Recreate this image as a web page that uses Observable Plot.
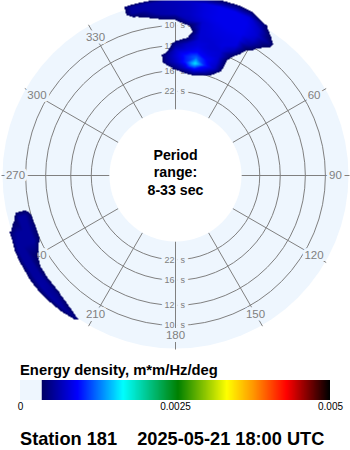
<!DOCTYPE html>
<html><head><meta charset="utf-8">
<script src="https://cdn.jsdelivr.net/npm/d3@7"></script>
<script src="https://cdn.jsdelivr.net/npm/@observablehq/plot@0.6"></script>
<style>
html,body{margin:0;padding:0;background:#fff;}
#page{position:relative;width:350px;height:450px;overflow:hidden;font-family:'Liberation Sans',Arial,sans-serif;color:#000;}
#chart{position:absolute;left:0;top:0;}
#clabel{position:absolute;left:20px;top:363px;font-weight:bold;font-size:14.8px;line-height:1;white-space:nowrap;}
#cbar{position:absolute;left:0;top:380px;}
#cbar svg{display:block;overflow:visible;}
#cbar text{font-family:'Liberation Sans',Arial,sans-serif;font-size:10px;}
#cbar .tick line{display:none;}
#title{position:absolute;left:20px;top:430px;font-weight:bold;font-size:18.2px;line-height:1;white-space:pre;}
</style></head><body>
<div id="page"><div id="chart"></div><div id="clabel"></div><div id="cbar"></div><div id="title"></div></div>
<script>
// ---- chart values ----
const periodRange = [8, 33];                 // seconds
const ringPeriods = [10, 12, 16, 22];        // seconds
const spokeDirections = [0, 30, 60, 90, 120, 150, 180, 210, 240, 270, 300, 330];
const legendTicks = [0, 0.0025, 0.005];
const legendLabel = "Energy density, m*m/Hz/deg";
const stationName = "Station 181";
const timestamp = "2025-05-21 18:00 UTC";
const energyMax = 0.005;
const energyFloor = 0.00034;                 // below this: background colour
const energyUnit = 1e-4;                     // grid values below are in 1e-4 m*m/Hz/deg

// northern swell / sea (directions, frequencies in Hz)
const northDirs = [330, 335, 340, 345, 350, 355, 0, 5, 10, 15, 20, 25, 30, 35, 40, 45];
const northFreqs = [0.050, 0.055, 0.060, 0.065, 0.070, 0.075, 0.080, 0.085, 0.090, 0.095, 0.100, 0.105, 0.110, 0.115, 0.120, 0.125, 0.130];
const northEnergy = [
  [0,0,0,0,0,0,   0,   0,   0,   0,   0,   0,   0,   0,  0,0],
  [0,0,0,0,0,0,   0,   0,   0,   0,   0,   0,   0,   0,  0,0],
  [0,0,0,0,0,0,   0, 2.5, 3.6, 1.5,   0,   0,   0,   0,  0,0],
  [0,0,0,0,0,1,  4.8,   7,   9,   7, 3.8,   0,   0,   0,  0,0],
  [0,0,0,0,0,4.8, 7,  10,  16,  10,   7,   2,   0,   0,  0,0],
  [0,0,0,0,0,4.8,7.5, 10,  12,   9, 7.5, 2.5,   0,   0,  0,0],
  [0,0,0,0,0,1.5, 7,   8,   9,   8, 7.5, 2.5,   0,   0,  0,0],
  [0,0,0,0,0,0,   5,   7,   8, 7.5, 7.5,   4,   0,   0,  0,0],
  [0,0,0,0,0,0, 1.5, 3.6, 7.5, 7.5,   8, 6.5, 1.5,   0,  0,0],
  [0,0,0,0,0,0,   0, 1.5, 7.5, 7.8,   8,   8,   3,   0,  0,0],
  [0,0,0,0,0,0, 0.5,   3, 7.5,   8, 8.2, 8.2, 5.5,   1,  0,0],
  [0,0,0,0,1.5,3, 3.6, 6.5, 7.5, 8.2, 8.5, 8.5,  7, 3.2,  0,0],
  [0,0,0,2.5,4.2,6,6.5,  7,   8, 8.5, 8.5, 8.5, 7.5,   5,  0,0],
  [0,0,0,5.5,6,6.2,6.5,  7,   8, 8.5, 8.5, 8.5,   7, 3.2,  0,0],
  [0,0,0,5.5,6,6.2,6.5,  7,   8, 8.5, 8.5,   8,   5,   1,  0,0],
  [0,0,0,0,0,0,   2, 2.5, 3.5,   4, 4.5,   4,   0,   0,  0,0],
  [0,0,0,0,0,0,   0,   0,   0,   0,   0,   0,   0,   0,  0,0]
];

// south-west swell
const westDirs = [200, 205, 210, 215, 220, 225, 230, 235, 240, 245, 250, 255, 260, 265];
const westFreqs = [0.095, 0.100, 0.105, 0.110, 0.115, 0.120, 0.125, 0.130];
const westEnergy = [
  [0,0,0,  0,  0,  0,  0,  0,  0,  0,  0,  0,0,0],
  [0,0,0,  0,  0,  0,  0,  0,  0,3.5,  4,3.6,0,0],
  [0,0,0,  0,  0,  0,  0,  0,2.5,5.5,5.5,5.5,0,0],
  [0,0,0,  0,  0,  2,2.5,  3,  4,5.5,5.5,5.5,0,0],
  [0,0,0,  0,3.5,  5,5.5,5.5,5.5,5.5,5.5,  3,0,0],
  [0,0,0,4.5,5.5,5.8,5.8,5.5,5.5,5.5,4.5,  0,0,0],
  [0,0,0,  1,  2,2.5,  3,  3,2.5,  2,  0,  0,0,0],
  [0,0,0,  0,  0,  0,  0,  0,  0,  0,  0,  0,0,0]
];

// ---- styles ----
const diskColor = "#eef6fe";
const gridColor = "#808080";
const font = "'Liberation Sans', Arial, sans-serif";
const rampStops = [energyFloor / energyMax, 0.184, 0.332, 0.51, 0.668, 0.752, 0.861, 1];
const rampColors = ["#000064", "#0000ff", "#00ffff", "#008000", "#ffff00", "#ff9900", "#ff0000", "#000000"];
const ramp = d3.scaleLinear().domain(rampStops).range(rampColors).interpolate(d3.interpolateRgb).clamp(true);
const cutoff = energyFloor / energyMax;
const blobInterp = (t) => (t < cutoff ? null : ramp(t));
const legendInterp = (t) => (t < cutoff ? diskColor : ramp(t));

// radial scale: frequency (Hz) -> radius in plot units (1 unit = 1 px)
const rad = d3.scaleLinear().domain([1 / periodRange[1], 1 / periodRange[0]]).range([66, 180]);
const diskRadius = 173, spokeOuter = 174, spokeLabelRadius = 160;
const deg = Math.PI / 180;
const px = (dir, r) => r * Math.sin(dir * deg);
const py = (dir, r) => r * Math.cos(dir * deg);

function gridPoints(dirs, freqs, rows) {
  const pts = [];
  freqs.forEach((f, i) => dirs.forEach((d, j) => pts.push({dir: d, freq: f, energy: rows[i][j] * energyUnit})));
  return pts;
}
const spectrum = [...gridPoints(northDirs, northFreqs, northEnergy), ...gridPoints(westDirs, westFreqs, westEnergy)];
const ringLabels = ringPeriods.flatMap((p) => [0, 180].map((dir) => ({p, dir})));
const centerLines = ["Period", "range:", `${periodRange[0]}-${periodRange[1]} sec`];
const centerText = (i, dy) => Plot.text([centerLines[i]], {x: 0, y: 0, dy, lineAnchor: "bottom",
  fontWeight: "bold", fontSize: 14.2, fill: "black", fontFamily: font});

const chart = Plot.plot({
  width: 350, height: 350, margin: 0,
  x: {domain: [-175, 175], axis: null},
  y: {domain: [-175, 175], axis: null},
  r: {type: "identity"},
  color: {type: "linear", domain: [0, energyMax], interpolate: blobInterp},
  style: {fontFamily: font, background: "white", overflow: "hidden"},
  marks: [
    Plot.dot([0], {x: 0, y: 0, r: diskRadius, fill: diskColor, stroke: "none"}),
    Plot.dot(ringPeriods, {x: 0, y: 0, r: (p) => rad(1 / p), fill: "none", stroke: gridColor, strokeWidth: 1}),
    Plot.text(ringLabels, {x: (d) => px(d.dir, rad(1 / d.p)), y: (d) => py(d.dir, rad(1 / d.p)), text: (d) => String(d.p),
      textAnchor: "end", dx: -1, fill: gridColor, stroke: diskColor, strokeWidth: 7, fontSize: 9, fontFamily: font}),
    Plot.text(ringLabels, {x: (d) => px(d.dir, rad(1 / d.p)), y: (d) => py(d.dir, rad(1 / d.p)), text: () => "s",
      textAnchor: "start", dx: 5, fill: gridColor, stroke: diskColor, strokeWidth: 7, fontSize: 9, fontFamily: font}),
    Plot.link(spokeDirections, {
      x1: (d) => px(d, rad(1 / periodRange[1])), y1: (d) => py(d, rad(1 / periodRange[1])),
      x2: (d) => px(d, spokeOuter), y2: (d) => py(d, spokeOuter), stroke: gridColor, strokeWidth: 1}),
    Plot.text(spokeDirections, {x: (d) => px(d, spokeLabelRadius), y: (d) => py(d, spokeLabelRadius), text: (d) => String(d),
      fill: gridColor, stroke: diskColor, strokeWidth: 6, fontSize: 11.5, fontFamily: font}),
    Plot.raster(spectrum, {x: (d) => px(d.dir, rad(d.freq)), y: (d) => py(d.dir, rad(d.freq)), fill: "energy", interpolate: "barycentric"}),
    Plot.dot([0], {x: 0, y: 0, r: rad(1 / periodRange[1]), fill: "white", stroke: "none"}),
    centerText(0, -15.5),
    centerText(1, 1),
    centerText(2, 19)
  ]
});
document.getElementById("chart").appendChild(chart);

const legend = Plot.legend({
  color: {type: "linear", domain: [0, energyMax], interpolate: legendInterp},
  width: 350, height: 36, marginTop: 0, marginBottom: 16, marginLeft: 20, marginRight: 20,
  tickSize: 0, ticks: legendTicks, tickFormat: (d) => String(d), label: null, className: "cbar"
});
document.getElementById("cbar").appendChild(legend);
document.getElementById("clabel").textContent = legendLabel;
document.getElementById("title").textContent = `${stationName}    ${timestamp}`;
</script></body></html>
